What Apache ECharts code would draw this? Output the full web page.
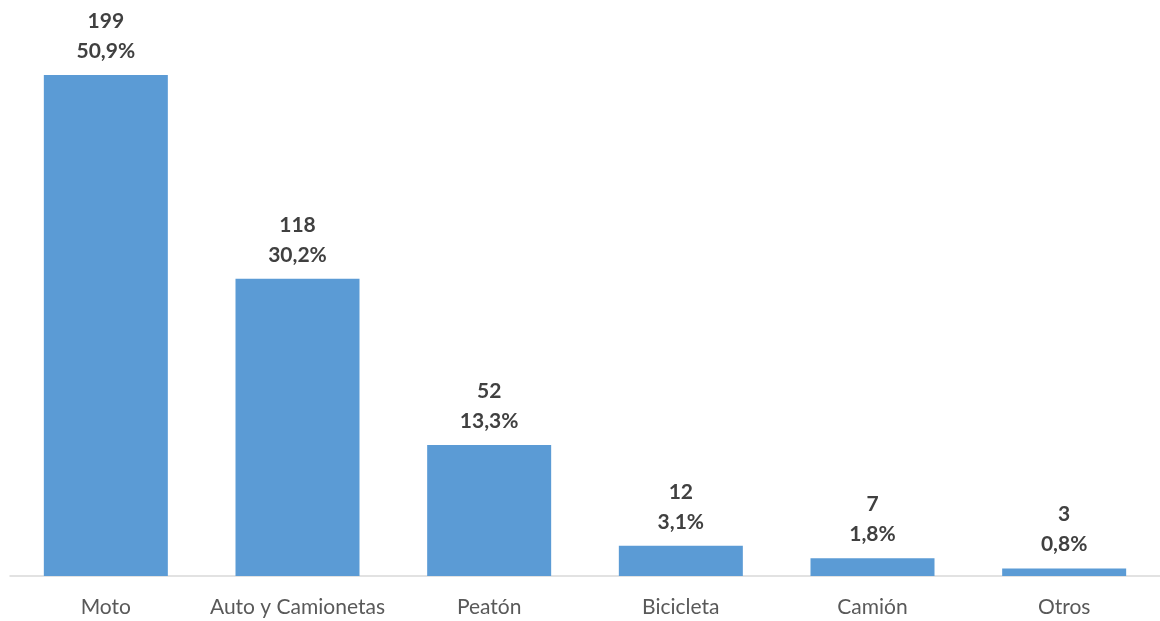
<!DOCTYPE html>
<html>
<head>
<meta charset="utf-8">
<script src="https://cdn.jsdelivr.net/npm/echarts@6/dist/echarts.min.js"></script>
<style>
  html, body { margin: 0; padding: 0; background: #fff; }
  #chart { width: 1160px; height: 621px; }
</style>
</head>
<body>
<div id="chart"></div>
<script>
var categories = ['Moto', 'Auto y Camionetas', 'Peatón', 'Bicicleta', 'Camión', 'Otros'];
var counts = [199, 118, 52, 12, 7, 3];
var percents = ['50,9%', '30,2%', '13,3%', '3,1%', '1,8%', '0,8%'];

var chart = echarts.init(document.getElementById('chart'));
var font = 'Lato, "Open Sans", sans-serif';

chart.setOption({
    animation: false,
    grid: { left: 10, right: -3, top: 22, bottom: 45, containLabel: false },
    xAxis: {
        type: 'category',
        data: categories,
        axisLine: { lineStyle: { color: '#d9d9d9', width: 1.5 } },
        axisTick: { show: false },
        axisLabel: { color: '#595959', fontSize: 21, fontFamily: font, margin: 21, interval: 0 }
    },
    yAxis: {
        type: 'value',
        min: 0,
        max: 220,
        show: false,
        splitLine: { show: false }
    },
    series: [{
        type: 'bar',
        data: counts,
        barWidth: 124,
        itemStyle: { color: '#5b9bd5' },
        label: {
            show: true,
            position: 'top',
            distance: 9,
            color: '#404040',
            fontSize: 21,
            fontWeight: 'bold',
            fontFamily: font,
            lineHeight: 30,
            formatter: function (p) {
                return p.value + '\n' + percents[p.dataIndex];
            }
        }
    }]
});
</script>
</body>
</html>
